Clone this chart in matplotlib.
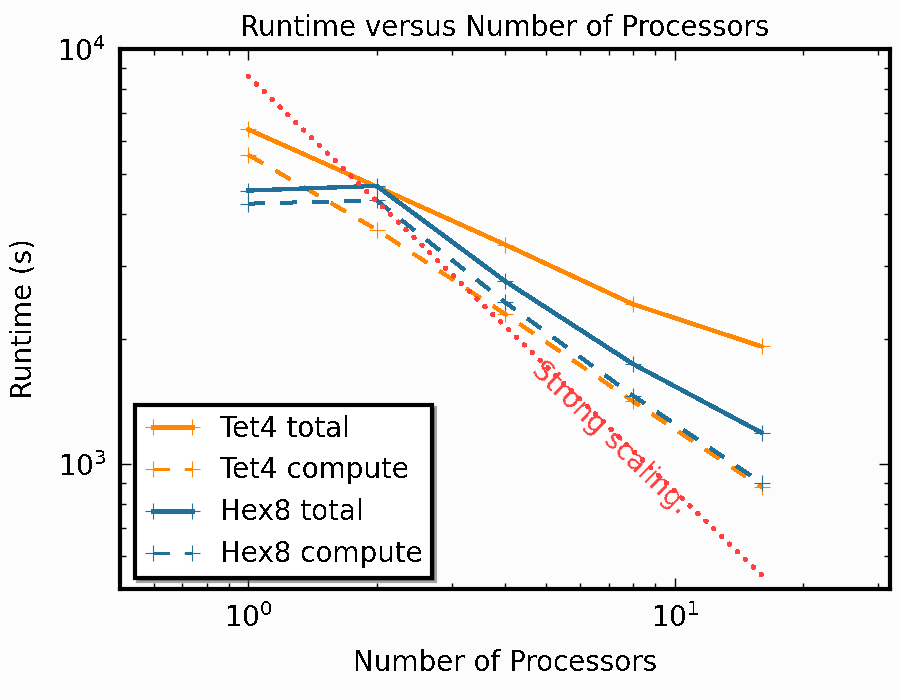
import numpy as np
import matplotlib
matplotlib.use("Agg")
import matplotlib.pyplot as plt

plt.rcParams['font.family'] = ['DejaVu Sans']
plt.rcParams['lines.scale_dashes'] = False
plt.rcParams['text.antialiased'] = False
plt.rcParams['lines.antialiased'] = False

# data
procs = [1, 2, 4, 8, 16]
tet4_total = [6400, 4660, 3380, 2425, 1920]
tet4_compute = [5560, 3670, 2300, 1415, 880]
hex8_total = [4560, 4680, 2760, 1740, 1190]
hex8_compute = [4240, 4320, 2455, 1460, 900]
strong_scaling = [8600, 4300, 2150, 1075, 540]

orange = '#ff8800'
blue = '#20709a'
red = '#ff4040'

fig = plt.figure(figsize=(9, 7), dpi=100, facecolor='#fcfcfc')
ax = fig.add_axes([0.1333, 0.1586, 0.8556, 0.7714])
ax.set_facecolor('#fcfcfc')

lw = 2.4
ms = 12
dash = [12, 11]
fs = 20

ax.loglog(procs, tet4_total, color=orange, lw=lw, marker='+', ms=ms, mew=0.8,
          label='Tet4 total')
ax.loglog(procs, tet4_compute, color=orange, lw=lw, marker='+', ms=ms, mew=0.8,
          dashes=dash, label='Tet4 compute')
ax.loglog(procs, hex8_total, color=blue, lw=lw, marker='+', ms=ms, mew=0.8,
          label='Hex8 total')
ax.loglog(procs, hex8_compute, color=blue, lw=lw, marker='+', ms=ms, mew=0.8,
          dashes=dash, label='Hex8 compute')
ax.loglog(procs, strong_scaling, color=red, lw=3, dashes=[0.5, 7.5],
          dash_capstyle='round')

ax.text(7.06, 1160, 'Strong scaling.', color=red, fontsize=fs,
        rotation=-44, ha='center', va='center')

ax.set_xlim(0.5, 32)
ax.set_ylim(500, 10000)

ax.set_title('Runtime versus Number of Processors', fontsize=fs, pad=9)
ax.set_xlabel('Number of Processors', fontsize=fs, labelpad=12)
ax.set_ylabel('Runtime (s)', fontsize=fs, labelpad=14)

for s in ax.spines.values():
    s.set_linewidth(3)
ax.tick_params(which='both', direction='in', top=True, right=True,
               labelsize=fs, pad=10)
ax.tick_params(which='major', length=8, width=1)
ax.tick_params(which='minor', length=4, width=1)

leg = ax.legend(loc='lower left', bbox_to_anchor=(0.0195, 0.0204),
                borderaxespad=0, shadow=True, fontsize=fs, numpoints=2,
                fancybox=False, labelspacing=0.5, handletextpad=0.7,
                borderpad=0.35)
leg.get_frame().set_linewidth(3)
leg.get_frame().set_edgecolor('black')

fig.savefig('out.png', dpi=100, facecolor=fig.get_facecolor())
